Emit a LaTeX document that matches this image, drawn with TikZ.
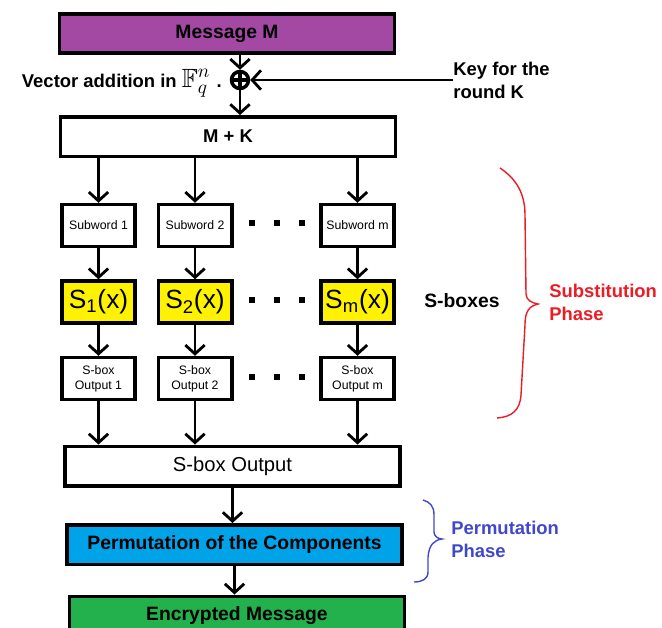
\documentclass[tikz,border=0pt]{standalone}
\usepackage{amssymb}
\usepackage{fontspec}
\setmainfont{Liberation Sans}
\usetikzlibrary{arrows.meta}
\definecolor{paintpurple}{HTML}{A349A4}
\definecolor{paintyellow}{HTML}{FFF200}
\definecolor{paintblue}{HTML}{00A2E8}
\definecolor{paintgreen}{HTML}{22B14C}
\definecolor{paintred}{HTML}{ED1C24}
\definecolor{penblue}{HTML}{3F48CC}

\begin{document}
\begin{tikzpicture}[x=0.02cm,y=-0.02cm,
	box/.style={draw,line width=2pt,rectangle,inner sep=0pt},
	bigbox/.style={box,minimum width=6.7cm,minimum height=0.79cm,font=\bfseries\fontsize{11}{13}\selectfont},
	smallbox/.style={box,minimum width=1.47cm,minimum height=0.84cm,align=center,font=\fontsize{7}{8.5}\selectfont},
	arr/.style={line width=1.6pt,-{Straight Barb[length=5pt,width=11pt]}},
	lbl/.style={inner sep=0pt,align=left,font=\bfseries\fontsize{10.5}{13}\selectfont}]
\useasboundingbox (0,0) rectangle (662,627);

%the main blocks
\node[bigbox,fill=paintpurple] (msg) at (227,33.5) {Message M};
\node[bigbox,font=\bfseries\fontsize{10.5}{13}\selectfont] (mk) at (228,136.5) {M + K};
\node[bigbox,font=\fontsize{11.5}{13}\selectfont] (sout) at (232.5,466) {S-box Output};
\node[bigbox,fill=paintblue] (perm) at (234.5,544.5) {Permutation of the Components};
\node[bigbox,fill=paintgreen] (enc) at (237,616) {Encrypted Message};

%adding the key
\node[circle,draw,line width=2pt,minimum size=0.34cm,inner sep=0pt] (xor) at (240,80) {};
\draw[line width=2pt] (xor.north) -- (xor.south) (xor.west) -- (xor.east);
\node[lbl,anchor=base east] (vec) at (222,87) {Vector addition in {\fontsize{15}{15}\selectfont$\mathbb{F}_q^n$}\,\,.};
\node[lbl,anchor=west] (key) at (453,80) {Key for the\\round K};
\draw[arr] (msg.south -| xor) -- (xor);
\draw[arr] (xor) -- (xor |- mk.north);
\draw[arr] (key.west) -- (xor);

%one column per subword
\foreach \i/\x/\t in {1/98.5/1,2/195/2,3/357.5/m}{
	\node[smallbox] (sw\i) at (\x,225.5) {Subword \t};
	\node[smallbox,fill=paintyellow,font=\fontsize{15}{15}\selectfont] (sb\i) at (\x,302) {S\textsubscript{\t}(x)};
	\node[smallbox] (so\i) at (\x,378.5) {S-box\\Output \t};
	\draw[arr] (mk.south -| sw\i) -- (sw\i);
	\draw[arr] (sw\i) -- (sb\i);
	\draw[arr] (sb\i) -- (so\i);
	\draw[arr] (so\i) -- (sout.north -| so\i);
}

%dots between the columns
\foreach \y[count=\r] in {223,300,377}{
	\foreach \x[count=\d] in {252,277,302}{
		\node[fill,rectangle,inner sep=0pt,minimum size=3pt] (dot\r\d) at (\x,\y) {};
	}
}

\draw[arr] (sout.south) -- (sout.south |- perm.north);
\draw[arr] (perm.south) -- (perm.south |- enc.north);

%the phases
\node[lbl,anchor=west,font=\bfseries\fontsize{11}{13}\selectfont] (sbl) at (424,301) {S-boxes};
\draw[paintred,line width=0.8pt] (500,168) .. controls (515,178) and (525,192) .. (525,215)
	-- (526,294) .. controls (526,300) and (532,303) .. (538,304)
	.. controls (530,306) and (525,310) .. (525,325)
	-- (521,395) .. controls (520,410) and (512,417) .. (497,418);
\node[lbl,anchor=west,text=paintred] (subph) at (549,302.5) {Substitution\\Phase};
\draw[penblue,line width=0.8pt] (423,500) .. controls (430,502) and (434,506) .. (434,515)
	-- (434,532) .. controls (434,536) and (438,539) .. (442,539)
	.. controls (434,540) and (429,545) .. (428,557)
	-- (428,572) .. controls (428,579) and (422,582) .. (414,582);
\node[lbl,anchor=west,text=penblue] (permph) at (451,539.5) {Permutation\\Phase};
\end{tikzpicture}
\end{document}
